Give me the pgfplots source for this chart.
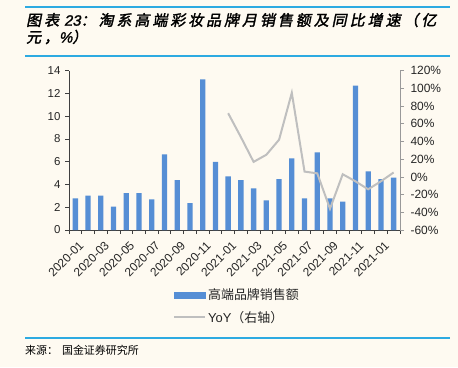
\documentclass[border=0pt]{standalone}
\usepackage{pgfplots}
\pgfplotsset{compat=1.18}
\usepackage{fontspec}
\setmainfont{Liberation Sans}
\newfontfamily\cjk{Noto Sans CJK SC}
\newfontfamily\cjktitle{Noto Sans CJK SC}[FakeSlant=0.2, FakeBold=2, LetterSpace=20]
\newfontfamily\latintitle{Liberation Sans}[FakeSlant=0.2, FakeBold=1.5]
\definecolor{bgcream}{RGB}{254,250,241}
\definecolor{barblue}{RGB}{85,142,213}
\definecolor{linegray}{RGB}{191,191,191}
\definecolor{ruleblue}{RGB}{45,170,225}
\begin{document}
\begin{tikzpicture}[x=1bp,y=1bp]
\fill[bgcream] (0,0) rectangle (458,367);
\draw[ruleblue, line width=1.5bp] (25,360) -- (450,360);
\draw[ruleblue, line width=1.5bp] (25,311) -- (450,311);
\draw[ruleblue, line width=1.2bp] (25,29) -- (450,29);
\node[anchor=west, inner sep=0] at (26,347) {\fontsize{15}{17}\selectfont{\cjktitle 图表}\hspace{5bp}{\latintitle 23}{\cjktitle ：淘系高端彩妆品牌月销售额及同比增速（亿}};
\node[anchor=west, inner sep=0] at (26,330) {\fontsize{15}{17}\selectfont{\cjktitle 元，}{\latintitle \%}{\cjktitle ）}};
\node[anchor=west, inner sep=0] at (25,17) {\fontsize{11}{13}\selectfont\cjk 来源：\hspace{4bp}国金证券研究所};

\begin{axis}[
  at={(69bp,137bp)}, anchor=south west, scale only axis,
  width=331bp, height=159.3bp,
  xmin=0.5, xmax=26.5, ymin=0, ymax=14,
  axis x line*=bottom, axis y line*=left,
  axis line style={black!75, line width=0.8bp},
  ytick={0,2,...,14},
  xtick={1,3,...,25},
  xticklabels={2020-01,2020-03,2020-05,2020-07,2020-09,2020-11,2021-01,2021-03,2021-05,2021-07,2021-09,2021-11,2021-01},
  minor xtick={0.5,1.5,...,26.5},
  major x tick style={draw=none},
  minor x tick style={black!75, line width=0.8bp},
  y tick style={black!75, line width=0.8bp},
  tick align=outside,
  major tick length=4bp, minor tick length=4bp,
  tick label style={font=\fontsize{11.5}{13}\selectfont, text=black!85},
  yticklabel style={xshift=-1bp},
  xticklabel style={font=\fontsize{12}{14}\selectfont, rotate=45, anchor=east, yshift=-11bp, xshift=1bp},
  /pgf/number format/assume math mode=true,
  ybar, bar width=5.3bp,
]
\addplot[fill=barblue, draw=none] coordinates {
(1,2.78) (2,3.02) (3,3.02) (4,2.05) (5,3.25) (6,3.25) (7,2.69) (8,6.65)
(9,4.39) (10,2.37) (11,13.24) (12,5.98) (13,4.72) (14,4.39) (15,3.66)
(16,2.61) (17,4.48) (18,6.30) (19,2.78) (20,6.82) (21,2.78) (22,2.49)
(23,12.68) (24,5.16) (25,4.48) (26,4.60)};
\end{axis}

\begin{axis}[
  at={(69bp,137bp)}, anchor=south west, scale only axis,
  width=331bp, height=159.3bp,
  xmin=0.5, xmax=26.5, ymin=-60, ymax=120,
  axis x line=none, axis y line*=right,
  y axis line style={linegray!80!black, line width=0.8bp},
  y tick style={linegray!80!black, line width=0.8bp},
  tick align=outside, major tick length=4bp,
  ytick={-60,-40,...,120},
  yticklabels={-60\%,-40\%,-20\%,0\%,20\%,40\%,60\%,80\%,100\%,120\%},
  tick label style={font=\fontsize{12}{14}\selectfont, text=black!85},
  yticklabel style={xshift=3bp},
  legend style={at={(0.314,-0.355)}, anchor=north west, draw=none, fill=none,
    inner sep=0pt, row sep=6bp, font=\fontsize{13}{15}\selectfont, text=black!85},
  legend cell align=left,
]
\addlegendimage{legend image code/.code={\fill[barblue] (0bp,-3bp) rectangle (31bp,3bp);}}
\addlegendentry{\cjk 高端品牌销售额}
\addplot[linegray, line width=2bp, legend image code/.code={\draw[linegray, line width=2bp] (0bp,0bp) -- (31bp,0bp);}] coordinates {
(13,72) (14,45) (15,17) (16,25) (17,42) (18,95) (19,6) (20,4) (21,-36)
(22,3) (23,-5) (24,-14) (25,-5) (26,5)};
\addlegendentry{YoY{\cjk （右轴）}}
\end{axis}
\end{tikzpicture}
\end{document}
